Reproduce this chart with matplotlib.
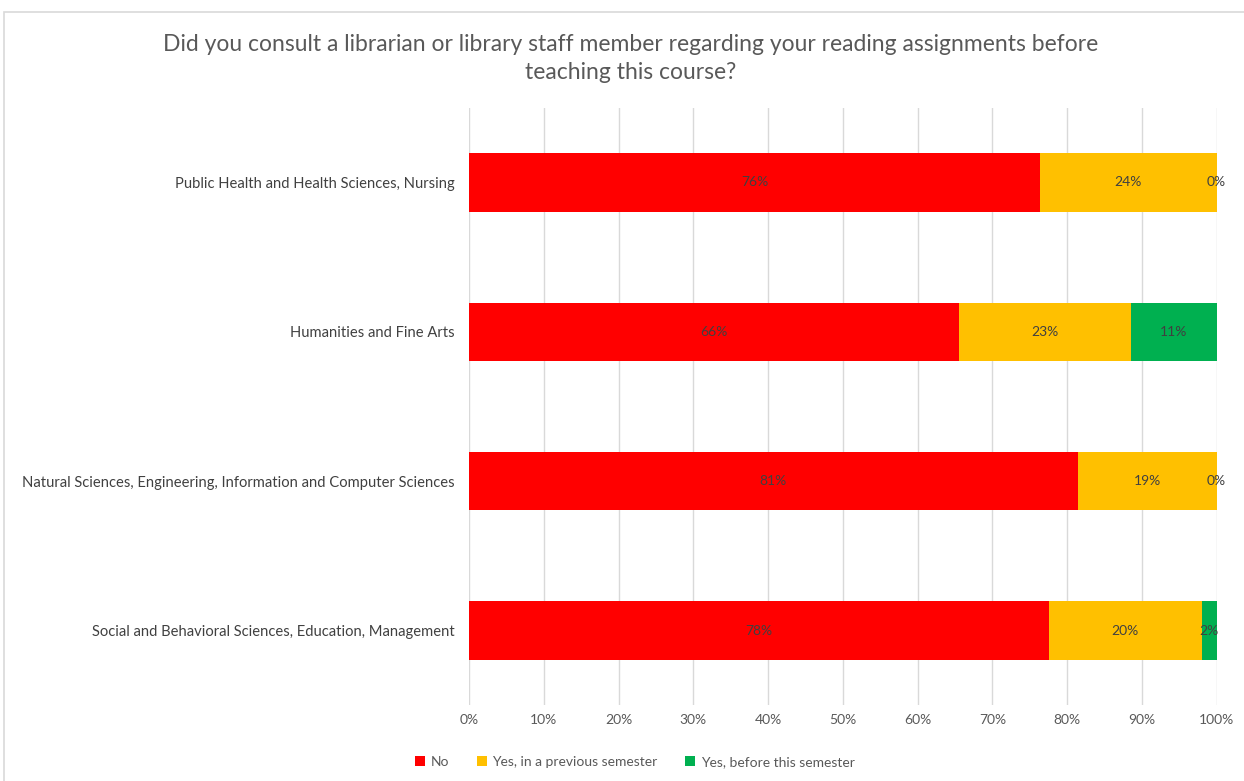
import matplotlib.pyplot as plt
from matplotlib.patches import Rectangle
import numpy as np

plt.rcParams['font.family'] = ['Lato', 'DejaVu Sans']

# Data (percent of respondents)
categories = [
    "Public Health and Health Sciences, Nursing",
    "Humanities and Fine Arts",
    "Natural Sciences, Engineering, Information and Computer Sciences",
    "Social and Behavioral Sciences, Education, Management",
]
no_vals = [76.4, 65.6, 81.4, 77.6]
prev_vals = [23.6, 23.0, 18.6, 20.4]
before_vals = [0.0, 11.4, 0.0, 2.0]

series_names = ["No", "Yes, in a previous semester", "Yes, before this semester"]
colors = ["#FF0000", "#FFC000", "#00B050"]

fig = plt.figure(figsize=(12.44, 7.81), dpi=100)
ax = fig.add_axes([0.377, 0.097, 0.601, 0.765])

# light frame around the chart area
fig.patches.append(Rectangle((0.003, -0.01), 1.2, 0.995, transform=fig.transFigure,
                             fill=False, edgecolor="#d9d9d9", linewidth=1.2))

y = np.arange(len(categories))
left = np.zeros(len(categories))
for vals, name, col in zip([no_vals, prev_vals, before_vals], series_names, colors):
    vals = np.array(vals)
    ax.barh(y, vals, left=left, height=0.39, color=col, label=name, zorder=3)
    for yi, l, v in zip(y, left, vals):
        ax.text(l + v / 2, yi, f"{v:.0f}%", ha="center", va="center",
                fontsize=10, color="#404040", zorder=4)
    left = left + vals

ax.set_xlim(0, 100)
ax.set_ylim(-0.5, len(categories) - 0.5)
ax.invert_yaxis()
ax.set_yticks(y)
ax.set_yticklabels(categories, fontsize=10.6, color="#404040")
ax.set_xticks(np.arange(0, 101, 10))
ax.set_xticklabels([f"{t}%" for t in range(0, 101, 10)], fontsize=10, color="#595959")
ax.tick_params(axis="both", length=0)
ax.tick_params(axis="x", pad=6)
ax.tick_params(axis="y", pad=10)
ax.grid(axis="x", color="#d9d9d9", linewidth=1, zorder=0)
for s in ax.spines.values():
    s.set_visible(False)

fig.text(0.507, 0.925,
         "Did you consult a librarian or library staff member regarding your reading assignments before\nteaching this course?",
         ha="center", va="center", fontsize=16.5, color="#595959", linespacing=1.45)

ax.legend(loc="center", bbox_to_anchor=(0.222, -0.095), ncol=3, frameon=False,
          fontsize=10, labelcolor="#595959", handlelength=0.7, handleheight=0.7,
          handletextpad=0.4, columnspacing=2.0)

fig.savefig("out.png", dpi=100)
